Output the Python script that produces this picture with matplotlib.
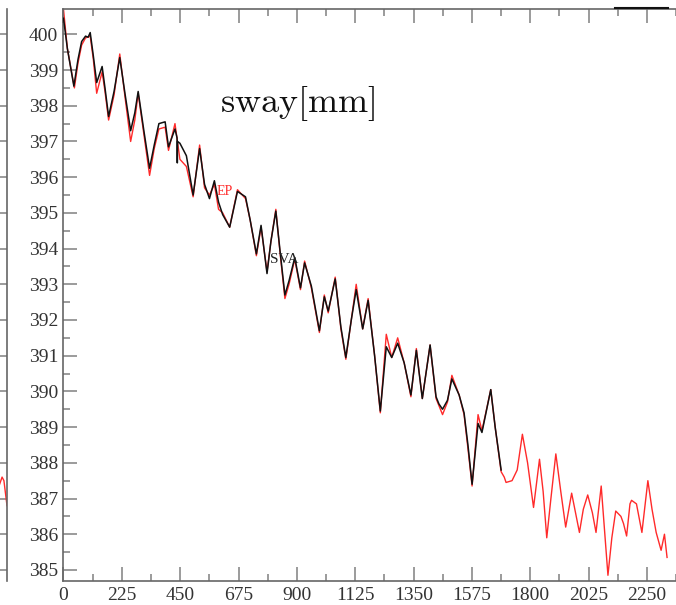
import matplotlib
matplotlib.use("Agg")
import matplotlib.pyplot as plt
from matplotlib.lines import Line2D

# ---- data ----
sva_x = [0, 15, 40, 56, 70, 85, 95, 103, 115, 128, 149, 160, 174, 195, 217, 238, 259, 275, 288,
         310, 332, 350, 368, 392, 405, 430, 438, 439, 440, 449, 474, 500, 525, 544, 563, 582,
         598, 614, 641, 671, 702, 720, 744, 762, 785, 800, 819, 835, 854, 870, 892, 914, 930,
         956, 987, 1006, 1021, 1048, 1070, 1089, 1110, 1129, 1154, 1175, 1200, 1222, 1245,
         1266, 1289, 1314, 1340, 1361, 1384, 1414, 1437, 1448, 1462, 1481, 1498, 1526, 1545,
         1560, 1576, 1599, 1614, 1648, 1665, 1688]
sva_y = [400.45, 399.6, 398.55, 399.3, 399.8, 399.95, 399.92, 400.05, 399.4, 398.65, 399.1,
         398.5, 397.7, 398.4, 399.35, 398.3, 397.3, 397.8, 398.4, 397.3, 396.25, 396.9, 397.5,
         397.55, 396.85, 397.35, 397.1, 396.4, 397.0, 396.95, 396.6, 395.5, 396.8, 395.8,
         395.4, 395.9, 395.3, 394.95, 394.6, 395.6, 395.45, 394.8, 393.85, 394.65, 393.3,
         394.2, 395.05, 393.95, 392.7, 393.1, 393.75, 392.9, 393.6, 392.95, 391.7, 392.65,
         392.25, 393.15, 391.8, 390.95, 392.0, 392.85, 391.75, 392.55, 391.0, 389.45, 391.25,
         390.95, 391.35, 390.8, 389.9, 391.15, 389.8, 391.3, 389.85, 389.65, 389.5, 389.75,
         390.35, 389.9, 389.4, 388.5, 387.4, 389.1, 388.85, 390.05, 389.0, 387.8]

ep_x = [0, 15, 42, 56, 70, 85, 103, 115, 128, 149, 160, 174, 195, 217, 238, 259, 275, 288, 310,
        332, 350, 368, 392, 405, 430, 449, 474, 500, 525, 544, 563, 582, 598, 614, 641, 671,
        702, 720, 744, 762, 785, 800, 819, 835, 854, 870, 892, 914, 930, 956, 987, 1006, 1021,
        1048, 1070, 1089, 1110, 1129, 1154, 1175, 1200, 1222, 1245, 1266, 1289, 1314, 1340,
        1361, 1384, 1414, 1437, 1462, 1481, 1498, 1526, 1545, 1560, 1576, 1599, 1614, 1648,
        1665, 1688, 1700, 1707, 1730, 1750, 1770, 1790, 1813, 1836, 1850, 1864, 1880, 1899,
        1918, 1937, 1960, 1975, 1990, 2005, 2022, 2040, 2054, 2074, 2088, 2100, 2115, 2130,
        2150, 2160, 2172, 2185, 2191, 2210, 2231, 2254, 2270, 2286, 2305, 2318, 2328]
ep_y = [400.7, 399.6, 398.5, 399.2, 399.7, 399.9, 399.95, 399.3, 398.35, 398.95, 398.4, 397.6,
        398.3, 399.45, 398.2, 397.0, 397.6, 398.35, 397.2, 396.05, 396.8, 397.35, 397.4,
        396.75, 397.5, 396.5, 396.3, 395.45, 396.9, 395.7, 395.5, 395.8, 395.1, 395.0, 394.6,
        395.65, 395.4, 394.8, 393.8, 394.6, 393.35, 394.2, 395.1, 393.9, 392.6, 393.0, 393.7,
        392.85, 393.65, 392.9, 391.65, 392.7, 392.2, 393.2, 391.75, 390.9, 392.0, 393.0,
        391.75, 392.6, 391.0, 389.4, 391.6, 390.95, 391.5, 390.8, 389.85, 391.2, 389.8, 391.3,
        389.8, 389.35, 389.7, 390.45, 389.9, 389.35, 388.4, 387.35, 389.35, 388.9, 390.05,
        389.0, 387.75, 387.6, 387.45, 387.5, 387.8, 388.8, 388.0, 386.75, 388.1, 387.2, 385.9,
        387.0, 388.25, 387.2, 386.2, 387.15, 386.6, 386.05, 386.7, 387.1, 386.6, 386.05,
        387.35, 386.0, 384.85, 385.9, 386.65, 386.5, 386.3, 385.95, 386.85, 386.95, 386.85,
        386.05, 387.5, 386.7, 386.05, 385.55, 386.0, 385.35]

# fragment of the neighbouring panel visible at the left edge
nb_x = [98.6, 99.2, 99.5, 100.0]
nb_y = [387.3, 387.6, 387.5, 386.8]

x_ticks = [0, 225, 450, 675, 900, 1125, 1350, 1575, 1800, 2025, 2250]
y_ticks = list(range(385, 401))

W, H = 676, 605
fig = plt.figure(figsize=(W / 100, H / 100), dpi=100)

spine_c = "#666666"
tick_c = "#8a8a8a"
label_c = "#333333"
serif = ["Liberation Serif", "DejaVu Serif"]

# main axes
ax = fig.add_axes([63.5 / W, 1 - 581 / H, 1 - 63.5 / W, (581 - 9) / H])
ax.plot(ep_x, ep_y, color="#ff2a2a", lw=1.0, zorder=2, solid_joinstyle="round")
ax.plot(sva_x, sva_y, color="#111111", lw=1.1, zorder=3, solid_joinstyle="round")
ax.set_xlim(0, 2327)
ax.set_ylim(384.69, 400.71)
ax.set_xticks(x_ticks)
ax.set_xticks([t + 112.5 for t in x_ticks], minor=True)
ax.set_yticks(y_ticks)
ax.set_yticks([t + 0.5 for t in y_ticks[:-1]], minor=True)
ax.set_xticklabels([str(t) for t in x_ticks])
ax.set_yticklabels([str(t) for t in y_ticks])
ax.spines["right"].set_visible(False)
for s in ("left", "bottom", "top"):
    ax.spines[s].set_color(spine_c)
    ax.spines[s].set_linewidth(1.2)
ax.tick_params(which="major", direction="in", length=10, width=1.2, color=tick_c,
               top=True, right=False, labelsize=14, labelcolor=label_c, pad=4)
ax.tick_params(which="minor", direction="in", length=5, width=1.2, color=tick_c,
               top=True, right=False)
for lab in ax.get_xticklabels() + ax.get_yticklabels():
    lab.set_family(serif)

plt.rcParams["mathtext.fontset"] = "cm"
ax.text(904, 397.83, r"$\mathrm{sway[mm]}$", fontsize=26, ha="center", va="baseline",
        color="#111111")
ax.text(591, 395.5, "EP", fontsize=10, color="#ff2a2a", family=serif, va="baseline")
ax.text(796, 393.6, "SVA", fontsize=11, color="#222222", family=serif, va="baseline")

# neighbouring panel fragment at the left edge
nb = fig.add_axes([-0.9, 1 - 581 / H, 0.9 + 7 / W, (581 - 9) / H])
nb.plot(nb_x, nb_y, color="#ff2a2a", lw=1.0)
nb.set_xlim(0, 100)
nb.set_ylim(384.69, 400.71)
for s in ("left", "bottom", "top"):
    nb.spines[s].set_visible(False)
nb.spines["right"].set_color(spine_c)
nb.spines["right"].set_linewidth(1.2)
nb.set_xticks([])
nb.yaxis.tick_right()
nb.set_yticks(y_ticks)
nb.tick_params(axis="y", direction="in", length=6, width=1.2, color=tick_c,
               labelright=False)

# short dark line at the top right
fig.add_artist(Line2D([615 / W, 668 / W], [1 - 8 / H, 1 - 8 / H], color="#111111", lw=1.5,
                      transform=fig.transFigure))

fig.savefig("out.png", dpi=100)
